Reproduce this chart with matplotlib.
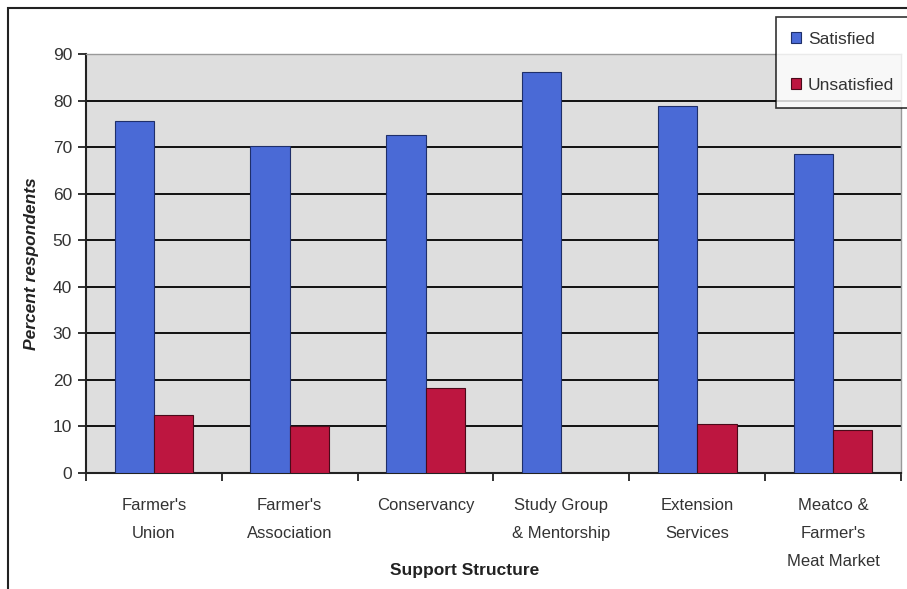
import numpy as np
import matplotlib
matplotlib.use("Agg")
import matplotlib.pyplot as plt
from matplotlib.patches import Rectangle

plt.rcParams['font.family'] = ['Liberation Sans', 'DejaVu Sans']

categories = ["Farmer's\nUnion", "Farmer's\nAssociation", "Conservancy",
              "Study Group\n& Mentorship", "Extension\nServices",
              "Meatco &\nFarmer's\nMeat Market"]
satisfied = [75.6, 70.3, 72.6, 86.2, 78.9, 68.5]
unsatisfied = [12.5, 10.0, 18.2, 0.0, 10.5, 9.2]
yticks = [0, 10, 20, 30, 40, 50, 60, 70, 80, 90]

fig = plt.figure(figsize=(9.07, 5.89), dpi=100)
ax = fig.add_axes([0.0948, 0.197, 0.8986, 0.711])
ax.set_facecolor('#dedede')

x = np.arange(len(categories))
w = 0.29
ax.bar(x - w / 2, satisfied, w, color='#4a6ad6', edgecolor='#1f2f6a', linewidth=0.8,
       label='Satisfied', zorder=3)
ax.bar(x + w / 2, unsatisfied, w, color='#bd1640', edgecolor='#4a0a1a', linewidth=0.8,
       label='Unsatisfied', zorder=3)

ax.set_xlim(-0.5, len(categories) - 0.5)
ax.set_ylim(0, 90)
ax.set_yticks(yticks)
ax.set_yticklabels([str(t) for t in yticks], fontsize=12.5, color='#333333')
for t in yticks[1:-1]:
    ax.axhline(t, color='black', linewidth=1.3, zorder=1)

# category labels between boundary ticks
ax.set_xticks(np.arange(len(categories) + 1) - 0.5)
ax.set_xticklabels([])
ax.set_xticks(x, minor=True)
ax.set_xticklabels(categories, minor=True, fontsize=12, color='#333333', linespacing=2.1,
                   va='top')
ax.tick_params(axis='x', which='minor', length=0, pad=18)
ax.tick_params(axis='x', which='major', length=6, width=1.3, color='#222222')
ax.tick_params(axis='y', length=6, width=1.3, color='#222222', pad=4)

for s in ['left', 'bottom']:
    ax.spines[s].set_color('#222222')
    ax.spines[s].set_linewidth(1.5)
for s in ['top', 'right']:
    ax.spines[s].set_color('#999999')
    ax.spines[s].set_linewidth(1.0)

ax.set_ylabel('Percent respondents', fontsize=12.5, fontweight='bold', style='italic',
              color='#222222', labelpad=10)
fig.text(465 / 907, 1 - 570 / 589, 'Support Structure', fontsize=12.5, fontweight='bold',
         color='#222222', ha='center', va='center')

leg = fig.legend(loc='upper left', bbox_to_anchor=(776 / 907, 1 - 17 / 589),
                 fontsize=12.5, frameon=True, fancybox=False, edgecolor='black',
                 labelspacing=1.8, handlelength=0.6, handleheight=0.6,
                 handletextpad=0.4, borderpad=0.85, borderaxespad=0)
leg.get_frame().set_linewidth(1.2)
for t in leg.get_texts():
    t.set_color('#333333')

fig.patches.append(Rectangle((8 / 907, -0.01), 1.0, 1 - 8 / 589 + 0.01,
                             transform=fig.transFigure, fill=False,
                             edgecolor='#222222', linewidth=1.5))

fig.savefig('out.png', dpi=100)
